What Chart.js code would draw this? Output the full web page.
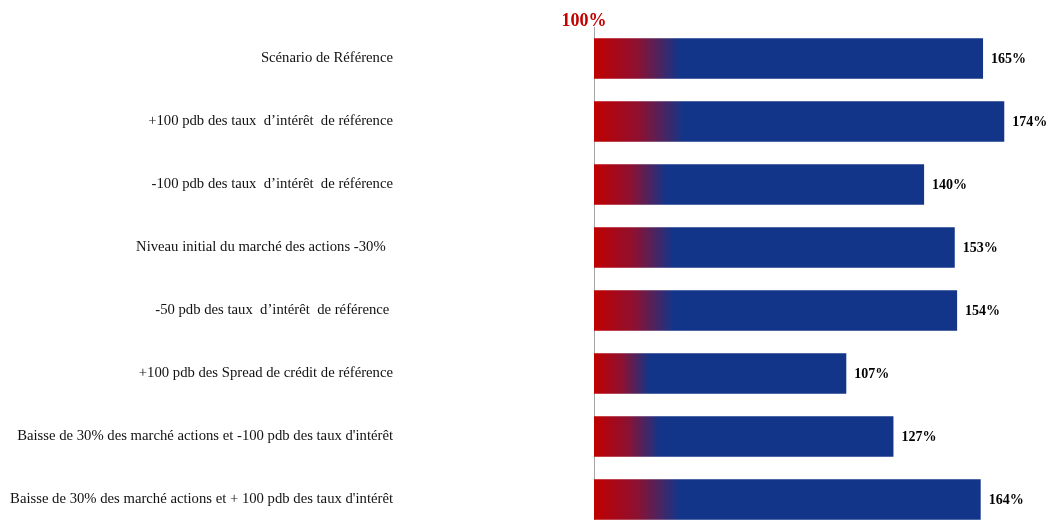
<!DOCTYPE html>
<html>
<head>
<meta charset="utf-8">
<script src="https://cdn.jsdelivr.net/npm/chart.js@4.4.1/dist/chart.umd.min.js"></script>
<style>
    html, body { margin: 0; padding: 0; background: #fff; overflow: hidden; }
    #wrap { width: 1048px; height: 531px; position: relative; }
</style>
</head>
<body>
<div id="wrap"><canvas id="ratioChart"></canvas></div>
<script>
// Scénarios de sensibilité - ratio de couverture

const scenarios = [
    'Scénario de Référence',
    '+100 pdb des taux  d’intérêt  de référence',
    '-100 pdb des taux  d’intérêt  de référence',
    'Niveau initial du marché des actions -30%  ',
    '-50 pdb des taux  d’intérêt  de référence ',
    '+100 pdb des Spread de crédit de référence',
    'Baisse de 30% des marché actions et -100 pdb des taux d\'intérêt',
    'Baisse de 30% des marché actions et + 100 pdb des taux d\'intérêt'
];
const ratios = [165, 174, 140, 153, 154, 107, 127, 164];
const refLabel = '100%';

const colors = {
    red: '#C00000',
    blue: '#12358A',
    axis: '#A6A6A6',
    text: '#111111'
};

// red -> blue fade over the first part of each bar
function barGradient(context) {
    const chart = context.chart;
    const xScale = chart.scales.x;
    if (!chart.chartArea || !xScale) return colors.blue;
    const value = context.raw;
    const x0 = xScale.getPixelForValue(0);
    const x1 = xScale.getPixelForValue(value);
    const g = chart.ctx.createLinearGradient(x0, 0, x1, 0);
    g.addColorStop(0, colors.red);
    g.addColorStop(0.11, '#8E1030');
    g.addColorStop(0.22, colors.blue);
    g.addColorStop(1, colors.blue);
    return g;
}

// value labels at bar ends + "100%" marker above the axis
const annotations = {
    id: 'annotations',
    afterDatasetsDraw(chart) {
        const ctx = chart.ctx;
        const meta = chart.getDatasetMeta(0);
        ctx.save();
        ctx.font = 'bold 14px "Liberation Serif", "Times New Roman", serif';
        ctx.fillStyle = '#000';
        ctx.textAlign = 'left';
        ctx.textBaseline = 'middle';
        meta.data.forEach((bar, i) => {
            ctx.fillText(ratios[i] + '%', bar.x + 8, bar.y + 1);
        });
        ctx.font = 'bold 18px "Liberation Serif", "Times New Roman", serif';
        ctx.fillStyle = colors.red;
        ctx.textAlign = 'center';
        ctx.textBaseline = 'alphabetic';
        ctx.fillText(refLabel, chart.chartArea.left - 10, 26);
        ctx.restore();
    }
};

new Chart(document.getElementById('ratioChart').getContext('2d'), {
    type: 'bar',
    data: {
        labels: scenarios,
        datasets: [{
            data: ratios,
            backgroundColor: barGradient,
            borderWidth: 0,
            barPercentage: 0.8,
            categoryPercentage: 0.8
        }]
    },
    options: {
        indexAxis: 'y',
        responsive: true,
        maintainAspectRatio: false,
        animation: false,
        layout: { padding: { top: 27, right: 6, left: 0, bottom: 0 } },
        plugins: {
            legend: { display: false },
            tooltip: { enabled: false }
        },
        scales: {
            x: {
                min: 0,
                max: 190,
                display: false
            },
            y: {
                grid: { display: false },
                border: { display: true, color: colors.axis, width: 1 },
                ticks: {
                    padding: 193,
                    color: colors.text,
                    font: { family: '"Liberation Serif", "Times New Roman", serif', size: 14.7 }
                },
                afterFit: scale => {
                    // keep the wide gap between labels and bars without vertical padding
                    scale.width = 594;
                    scale.paddingTop = 0;
                    scale.paddingBottom = 0;
                }
            }
        }
    },
    plugins: [annotations]
});
</script>
</body>
</html>
